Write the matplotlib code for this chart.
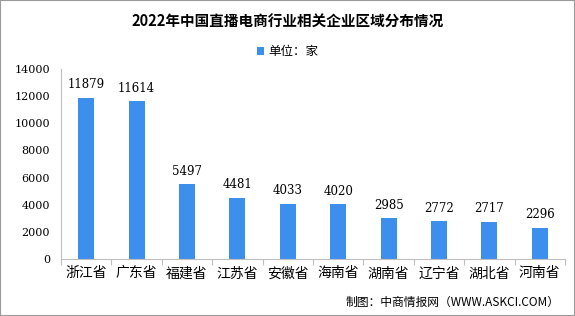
import matplotlib.pyplot as plt

plt.rcParams['font.family'] = ['Noto Sans CJK SC', 'DejaVu Sans']

provinces = ['浙江省', '广东省', '福建省', '江苏省', '安徽省',
             '海南省', '湖南省', '辽宁省', '湖北省', '河南省']
counts = [11879, 11614, 5497, 4481, 4033, 4020, 2985, 2772, 2717, 2296]
yticks = [0, 2000, 4000, 6000, 8000, 10000, 12000, 14000]

bar_color = '#3D8FEE'

fig = plt.figure(figsize=(5.75, 3.16), dpi=100)
ax = fig.add_axes([61 / 575, 1 - 259 / 316, 504 / 575, 190 / 316])

x = range(len(provinces))
bars = ax.bar(x, counts, width=0.32, color=bar_color, label='单位：家')
for xi, v in zip(x, counts):
    ax.text(xi, v + 500, str(v), ha='center', va='bottom', fontsize=8.5,
            family=['DejaVu Serif'])

ax.set_xlim(-0.5, len(provinces) - 0.5)
ax.set_ylim(0, 14000)
ax.set_yticks(yticks)
ax.set_yticklabels([str(t) for t in yticks], fontsize=8, family=['DejaVu Serif'])
ax.set_xticks([i + 0.5 for i in range(-1, len(provinces))], minor=False)
ax.set_xticklabels([])
ax.tick_params(axis='x', length=4, color='#bfbfbf', direction='out')
ax.tick_params(axis='y', length=0, pad=8)
for i, p in enumerate(provinces):
    ax.text(i, -550, p, ha='center', va='top', fontsize=10)

for s in ['top', 'right']:
    ax.spines[s].set_visible(False)
ax.spines['left'].set_color('#bfbfbf')
ax.spines['bottom'].set_color('#bfbfbf')

fig.text(0.5, 1 - 22 / 316, '2022年中国直播电商行业相关企业区域分布情况',
         ha='center', va='center', fontsize=10.5, fontweight='bold')
fig.legend(handles=[bars], labels=['单位：家'], loc='center',
           bbox_to_anchor=(0.5, 1 - 52 / 316), frameon=False, fontsize=9,
           handlelength=0.6, handleheight=0.6, handletextpad=0.3)
fig.text(560 / 575, 1 - 302 / 316, '制图：中商情报网（WWW.ASKCI.COM）',
         ha='right', va='center', fontsize=8.5)

fig.patches.append(plt.Rectangle((0, 0), 1, 1, transform=fig.transFigure,
                                 fill=False, edgecolor='#9a9a9a', linewidth=1.5))

fig.savefig('out.png', dpi=100)
